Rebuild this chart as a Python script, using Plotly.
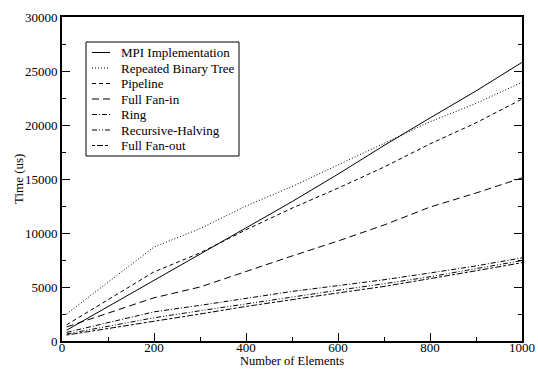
import plotly.graph_objects as go

x_elems = [10, 200, 300, 400, 500, 600, 700, 800, 900, 1000]

mpi_impl = [1000, 5600, 8000, 10400, 12900, 15450, 18100, 20650, 23150, 25800]
rep_binary_tree = [2500, 8700, 10400, 12500, 14300, 16300, 18300, 20300, 22000, 23950]
pipeline = [1500, 6400, 8150, 10300, 12300, 14150, 16100, 18250, 20200, 22400]
full_fan_in = [1300, 4000, 5000, 6450, 7870, 9260, 10740, 12400, 13700, 15100]
ring = [800, 2700, 3300, 3950, 4590, 5130, 5670, 6300, 6950, 7700]
recursive_halving = [650, 2150, 2800, 3450, 4100, 4700, 5300, 5950, 6700, 7450]
full_fan_out = [550, 1800, 2500, 3200, 3850, 4450, 5050, 5750, 6500, 7250]

series_names = ["MPI Implementation", "Repeated Binary Tree", "Pipeline", "Full Fan-in",
                "Ring", "Recursive-Halving", "Full Fan-out"]
series_values = [mpi_impl, rep_binary_tree, pipeline, full_fan_in, ring,
                 recursive_halving, full_fan_out]
series_dash = ["solid", "1px,2px", "4px,3px", "7px,4px", "5px,2px,1px,2px",
               "5px,2px,1px,2px,1px,2px", "3px,2px,6px,2px"]

W, H = 538, 369
ML, MR, MT, MB = 62, 16, 17, 28
PW, PH = W - ML - MR, H - MT - MB
FONT = "Liberation Serif, Tinos, Times New Roman, Nimbus Roman, DejaVu Serif, serif"

def px_x(p):
    return (p - ML) / PW

def px_y(p):
    return (H - MB - p) / PH

fig = go.Figure()
for name, ys, dash in zip(series_names, series_values, series_dash):
    fig.add_trace(go.Scatter(
        x=x_elems, y=ys, mode="lines", name=name, showlegend=False,
        line=dict(color="black", width=1, dash=dash),
    ))

# Custom legend (box, samples, labels) in paper coordinates
shapes = [dict(type="rect", xref="paper", yref="paper",
               x0=px_x(86), x1=px_x(239), y0=px_y(156), y1=px_y(42),
               line=dict(color="black", width=1), fillcolor="white", layer="above")]
annotations = []
row0, step = 52.5, 15.5
for i, (name, dash) in enumerate(zip(series_names, series_dash)):
    yy = px_y(row0 + i * step)
    shapes.append(dict(type="line", xref="paper", yref="paper",
                       x0=px_x(92), x1=px_x(110), y0=yy, y1=yy,
                       line=dict(color="black", width=1, dash=dash), layer="above"))
    annotations.append(dict(xref="paper", yref="paper", x=px_x(119), y=yy,
                            xanchor="left", yanchor="middle", showarrow=False,
                            text=name, font=dict(family=FONT, size=13, color="black")))

annotations.append(dict(xref="paper", yref="paper", x=0.5, y=0, yanchor="top",
                        yshift=-12, borderpad=0, showarrow=False, text="Number of Elements",
                        font=dict(family=FONT, size=12.5, color="black")))
annotations.append(dict(xref="paper", yref="paper", x=0, y=0.5, xanchor="center",
                        xshift=-44, textangle=-90, showarrow=False, text="Time (us)",
                        font=dict(family=FONT, size=13, color="black")))

fig.update_layout(
    width=W, height=H,
    margin=dict(l=ML, r=MR, t=MT, b=MB),
    paper_bgcolor="white", plot_bgcolor="white",
    font=dict(family=FONT, size=13, color="black"),
    showlegend=False,
    shapes=shapes,
    annotations=annotations,
    xaxis=dict(
        range=[0, 1000], dtick=200, tick0=0, tickformat="d",
        ticks="inside", ticklen=8, tickwidth=1, tickcolor="black",
        minor=dict(dtick=100, ticks="inside", ticklen=4, tickcolor="black"),
        showline=True, linecolor="black", linewidth=2, mirror=True,
        showgrid=False, zeroline=False, automargin=False,
        ticklabelstandoff=-7,
        tickfont=dict(family=FONT, size=13),
    ),
    yaxis=dict(
        range=[0, 30000], dtick=5000, tick0=0, tickformat="d",
        ticks="inside", ticklen=8, tickwidth=1, tickcolor="black",
        minor=dict(dtick=2500, ticks="inside", ticklen=4, tickcolor="black"),
        showline=True, linecolor="black", linewidth=2, mirror="ticks",
        showgrid=False, zeroline=False, automargin=False,
        tickfont=dict(family=FONT, size=13),
    ),
)

fig.write_html("out.html")
